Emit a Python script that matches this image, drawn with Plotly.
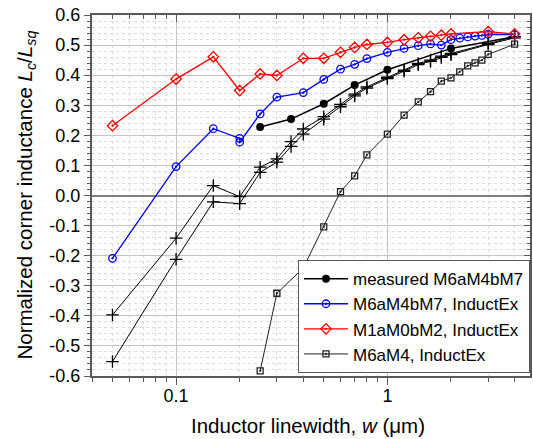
import plotly.graph_objects as go

# ---------------- data ----------------
w_meas = [0.25, 0.35, 0.5, 0.7, 1.0, 2.0]
L_meas = [0.228, 0.254, 0.305, 0.367, 0.418, 0.489]
w_meas_ext = [2.0, 3.0, 4.0]
L_meas_ext = [0.489, 0.512, 0.528]

w_blue = [0.05, 0.1, 0.15, 0.2, 0.2, 0.25, 0.3, 0.4, 0.5, 0.6, 0.7, 0.8, 1.0, 1.2, 1.4, 1.6, 1.8, 2.0, 2.2, 2.4, 2.6, 2.8, 3.0, 4.0]
L_blue = [-0.209, 0.096, 0.222, 0.190, 0.177, 0.271, 0.327, 0.342, 0.386, 0.420, 0.436, 0.455, 0.476, 0.489, 0.498, 0.504, 0.500, 0.518, 0.523, 0.527, 0.530, 0.532, 0.536, 0.535]

w_red = [0.05, 0.1, 0.15, 0.2, 0.25, 0.3, 0.4, 0.5, 0.6, 0.7, 0.8, 1.0, 1.2, 1.4, 1.6, 1.8, 2.0, 3.0, 4.0]
L_red = [0.232, 0.387, 0.461, 0.349, 0.404, 0.399, 0.456, 0.456, 0.476, 0.492, 0.502, 0.509, 0.518, 0.524, 0.529, 0.533, 0.537, 0.545, 0.537]

w_sq = [0.25, 0.3, 0.4, 0.5, 0.6, 0.7, 0.8, 1.0, 1.2, 1.4, 1.6, 1.8, 2.0, 2.2, 2.4, 2.6, 2.8, 3.0, 4.0]
L_sq = [-0.583, -0.325, -0.241, -0.104, 0.013, 0.065, 0.135, 0.204, 0.267, 0.311, 0.345, 0.380, 0.391, 0.411, 0.431, 0.441, 0.450, 0.469, 0.503]

w_cross = [0.05, 0.1, 0.15, 0.2, 0.25, 0.3, 0.35, 0.4, 0.5, 0.6, 0.7, 0.8, 1.0, 1.2, 1.4, 1.6, 1.8, 2.0, 3.0, 4.0]
L_cross_a = [-0.397, -0.142, 0.033, -0.004, 0.094, 0.122, 0.179, 0.221, 0.262, 0.303, 0.337, 0.361, 0.393, 0.417, 0.439, 0.450, 0.463, 0.472, 0.506, 0.528]
L_cross_b = [-0.552, -0.212, -0.021, -0.027, 0.077, 0.111, 0.163, 0.204, 0.254, 0.295, 0.331, 0.357, 0.389, 0.413, 0.435, 0.446, 0.459, 0.468, 0.502, 0.524]

names = ["measured M6aM4bM7", "M6aM4bM7, InductEx", "M1aM0bM2, InductEx", "M6aM4, InductEx"]
x_tickvals = [0.1, 1]
x_ticktext = ["0.1", "1"]
y_tickvals = [-0.6, -0.5, -0.4, -0.3, -0.2, -0.1, 0.0, 0.1, 0.2, 0.3, 0.4, 0.5, 0.6]
y_ticktext = [f"{v:.1f}" for v in y_tickvals]
x_title = "Inductor linewidth, <i>w</i> (μm)"
y_title = "Normalized corner inductance <i>L</i><sub><i>c</i></sub>/<i>L</i><sub><i>sq</i></sub>"

# ---------------- styling ----------------
FONT = "Liberation Sans, Arial, sans-serif"
AXC = "#5a5a5a"
XR = [-1.39794, 0.675]
YR = [-0.6, 0.6]

fig = go.Figure()

for Lc in (L_cross_a, L_cross_b):
    fig.add_trace(go.Scatter(x=w_cross, y=Lc, mode="lines+markers", showlegend=False,
                             line=dict(color="black", width=1),
                             marker=dict(symbol="cross-thin-open", size=9,
                                         line=dict(color="black", width=1.3))))

fig.add_trace(go.Scatter(x=w_meas_ext, y=L_meas_ext, mode="lines", showlegend=False,
                         line=dict(color="black", width=1.5)))
fig.add_trace(go.Scatter(x=w_meas, y=L_meas, mode="lines+markers", name=names[0],
                         line=dict(color="black", width=1.5),
                         marker=dict(symbol="circle", size=8, color="black")))
fig.add_trace(go.Scatter(x=w_blue, y=L_blue, mode="lines+markers", name=names[1],
                         line=dict(color="#0000ff", width=1.3),
                         marker=dict(symbol="circle-open-dot", size=7.5, color="#0000ff",
                                     line=dict(color="#0000ff", width=1.3))))
fig.add_trace(go.Scatter(x=w_red, y=L_red, mode="lines+markers", name=names[2],
                         line=dict(color="#ff0000", width=1.3),
                         marker=dict(symbol="diamond-open-dot", size=8, color="#ff0000",
                                     line=dict(color="#ff0000", width=1.3))))
fig.add_trace(go.Scatter(x=w_sq, y=L_sq, mode="lines+markers", name=names[3],
                         line=dict(color="#222222", width=1),
                         marker=dict(symbol="square-open-dot", size=6, color="#222222",
                                     line=dict(color="#222222", width=1.3))))

# dummy trace to activate mirrored axes with inward ticks
fig.add_trace(go.Scatter(x=[None], y=[None], xaxis="x2", yaxis="y2", showlegend=False,
                         hoverinfo="skip"))

fig.update_layout(
    width=533, height=439,
    margin=dict(l=92, r=3, t=15, b=63),
    paper_bgcolor="white", plot_bgcolor="white",
    font=dict(family=FONT, size=18, color="black"),
    xaxis=dict(type="log", range=XR, tickvals=x_tickvals, ticktext=x_ticktext,
               ticks="outside", ticklen=7, tickwidth=1.3, tickcolor=AXC,
               showline=True, linecolor=AXC, linewidth=2,
               showgrid=True, gridcolor="#c4c4c4", gridwidth=1,
               minor=dict(ticks="outside", ticklen=4, tickcolor=AXC, dtick="D1",
                          showgrid=True, gridcolor="#dcdcdc", griddash="dot", gridwidth=1),
               tickfont=dict(size=18), ticklabelstandoff=-5,
               zeroline=False),
    yaxis=dict(range=YR, tickvals=y_tickvals, ticktext=y_ticktext,
               ticks="outside", ticklen=6, tickwidth=1.3, tickcolor=AXC,
               showline=True, linecolor=AXC, linewidth=2,
               showgrid=True, gridcolor="#c4c4c4", gridwidth=1,
               minor=dict(ticks="outside", ticklen=3, tickcolor=AXC, dtick=0.02,
                          showgrid=True, gridcolor="#dcdcdc", griddash="dot", gridwidth=1),
               zeroline=True, zerolinecolor="#808080", zerolinewidth=2,
               tickfont=dict(size=18)),
    xaxis2=dict(type="log", range=XR, overlaying="x", side="top", anchor="y2",
                tickvals=x_tickvals, showticklabels=False,
                ticks="inside", ticklen=7, tickwidth=1.3, tickcolor=AXC,
                showline=True, linecolor=AXC, linewidth=2, showgrid=False, zeroline=False,
                minor=dict(ticks="inside", ticklen=4, tickcolor=AXC, dtick="D1", showgrid=False)),
    yaxis2=dict(range=YR, overlaying="y", side="right", anchor="x2",
                tickvals=y_tickvals, showticklabels=False,
                ticks="inside", ticklen=6, tickwidth=1.3, tickcolor=AXC,
                showline=True, linecolor=AXC, linewidth=2, showgrid=False, zeroline=False,
                minor=dict(ticks="inside", ticklen=3, tickcolor=AXC, dtick=0.02, showgrid=False)),
    legend=dict(x=1, xanchor="right", y=0.008, yanchor="bottom",
                bgcolor="white", bordercolor=AXC, borderwidth=1,
                font=dict(size=17), tracegroupgap=0, itemwidth=44),
    showlegend=True,
    annotations=[
        dict(text=x_title, xref="paper", yref="paper", x=0.5, y=0, xanchor="center",
             yanchor="middle", xshift=-3, yshift=-49, showarrow=False,
             font=dict(size=20.5, family=FONT, color="black")),
        dict(text=y_title, xref="paper", yref="paper", x=0, y=0.5, xanchor="center",
             yanchor="middle", xshift=-67, textangle=-90, showarrow=False,
             font=dict(size=20.5, family=FONT, color="black")),
    ],
)

fig.write_html("out.html")
